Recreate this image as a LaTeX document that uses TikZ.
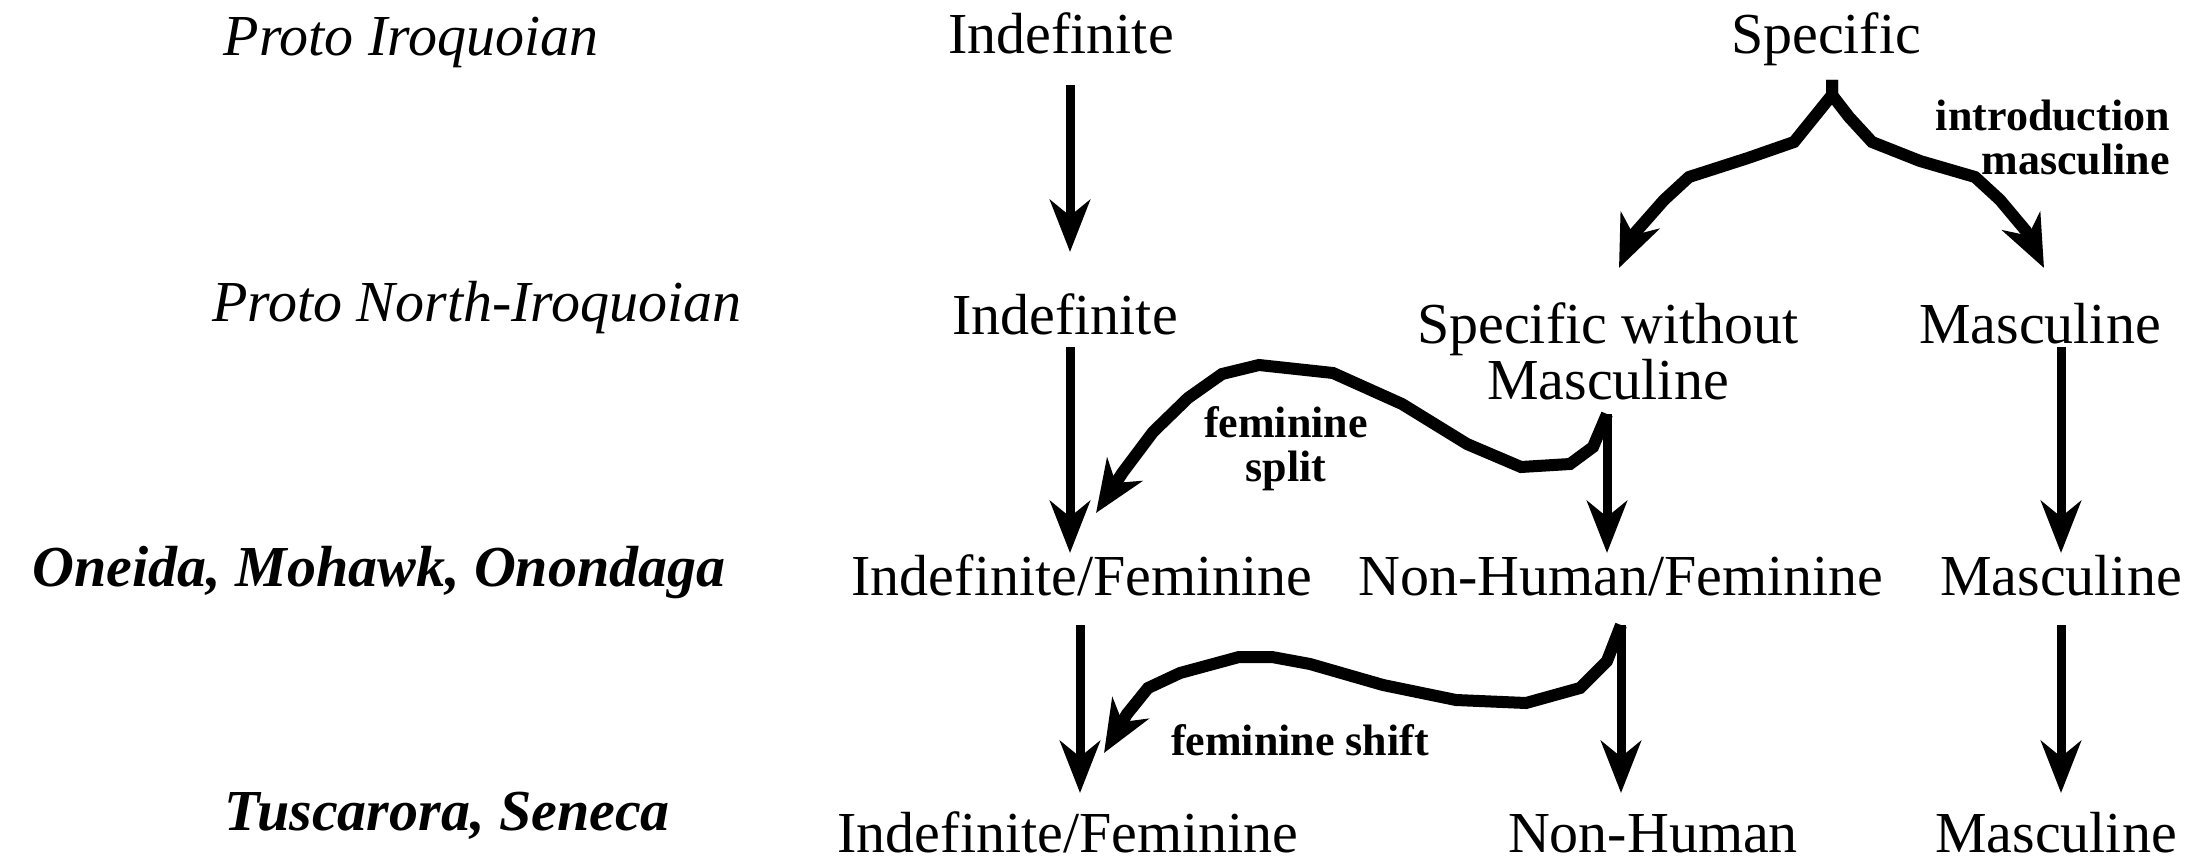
\documentclass[tikz,border=0pt]{standalone}
\usepackage{fontspec}
\setmainfont{Liberation Serif}
\usetikzlibrary{arrows.meta}

\begin{document}
\begin{tikzpicture}[x=1pt,y=-1pt]
  \tikzstyle{term}=[anchor=base,inner sep=0pt,font=\fontsize{58}{55}\selectfont]
  \tikzstyle{lang}=[term,font=\fontsize{58}{55}\selectfont\itshape]
  \tikzstyle{langb}=[term,font=\fontsize{58}{55}\selectfont\bfseries\itshape]
  \tikzstyle{note}=[anchor=base,inner sep=0pt,font=\fontsize{44}{44}\selectfont\bfseries]
  \tikzstyle{down}=[line width=9pt,-{Stealth[length=52pt,width=40pt,inset=16pt]}]
  \tikzstyle{swerve}=[line width=12pt,-{Stealth[length=52pt,width=42pt,inset=16pt]}]
  \useasboundingbox (0,0) rectangle (2210,861);

  % stages
  \node[lang]  (st1) at (411,56)  {Proto Iroquoian};
  \node[lang]  (st2) at (477,321) {Proto North-Iroquoian};
  \node[langb] (st3) at (379,586) {Oneida, Mohawk, Onondaga};
  \node[langb] (st4) at (447,830) {Tuscarora, Seneca};

  % categories
  \node[term] (ind1)  at (1061,54)  {Indefinite};
  \node[term] (spec)  at (1826,54)  {Specific};
  \node[term] (ind2)  at (1065,334) {Indefinite};
  \node[term] (swm)   at (1608,343) {\begin{tabular}[t]{@{}c@{}}Specific without\\Masculine\end{tabular}};
  \node[term] (masc2) at (2040,343) {Masculine};
  \node[term] (ifem3) at (1082,595) {Indefinite/Feminine};
  \node[term] (nhf3)  at (1621,595) {Non-Human/Feminine};
  \node[term] (masc3) at (2061,595) {Masculine};
  \node[term] (ifem4) at (1068,852) {Indefinite/Feminine};
  \node[term] (nh4)   at (1653,852) {Non-Human};
  \node[term] (masc4) at (2056,852) {Masculine};

  % labels on the shifts
  \node[note,anchor=base east] (intro) at (2170,131) {\begin{tabular}[t]{@{}r@{}}introduction\\masculine\end{tabular}};
  \node[note] (split) at (1286,437) {\begin{tabular}[t]{@{}c@{}}feminine\\split\end{tabular}};
  \node[note] (shift) at (1300,755) {feminine shift};

  % straight descent
  \draw[down] ([xshift=9pt,yshift=-31pt]ind1.base) -- ([xshift=5pt,yshift=82pt]ind2.base);
  \draw[down] ([xshift=5pt,yshift=-13pt]ind2.base) -- ([xshift=-12pt,yshift=42pt]ifem3.base);
  \draw[down] ([xshift=-2pt,yshift=-30pt]ifem3.base) -- ([xshift=12pt,yshift=59pt]ifem4.base);
  \draw[down] ([xshift=-1pt,yshift=-71pt]swm.base) -- ([xshift=-14pt,yshift=42pt]nhf3.base);
  \draw[down] ([yshift=-30pt]nhf3.base) -- ([xshift=-32pt,yshift=59pt]nh4.base);
  \draw[down] ([xshift=21pt,yshift=-4pt]masc2.base) -- ([yshift=42pt]masc3.base);
  \draw[down] ([yshift=-30pt]masc3.base) -- ([xshift=5pt,yshift=59pt]masc4.base);

  % specific splits in two
  \draw[swerve] ([xshift=6pt,yshift=-26pt]spec.base) -- (1832,95) -- (1794,142) -- (1748,158)
        -- (1689,177) -- (1664,200) -- (1634,234) -- ([xshift=11pt,yshift=75pt]swm.base);
  \draw[swerve] ([xshift=6pt,yshift=-26pt]spec.base) -- (1832,95) -- (1849,117) -- (1872,142)
        -- (1920,161) -- (1975,177) -- (2000,200) -- (2026,231) -- ([xshift=4pt,yshift=75pt]masc2.base);

  % feminine split
  \draw[swerve] ([xshift=-1pt,yshift=-71pt]swm.base) -- (1593,447) -- (1570,464) -- (1521,467)
        -- (1467,444) -- (1402,404) -- (1333,373) -- (1259,365) -- (1222,374) -- (1188,398)
        -- (1153,432) -- (1123,472) -- ([xshift=14pt,yshift=82pt]ifem3.base);

  % feminine shift
  \draw[swerve] ([yshift=-30pt]nhf3.base) -- (1607,661) -- (1580,688) -- (1526,703) -- (1456,700)
        -- (1383,685) -- (1310,664) -- (1272,657) -- (1239,657) -- (1180,673) -- (1148,688)
        -- (1127,714) -- ([xshift=36pt,yshift=99pt]ifem4.base);
\end{tikzpicture}
\end{document}
